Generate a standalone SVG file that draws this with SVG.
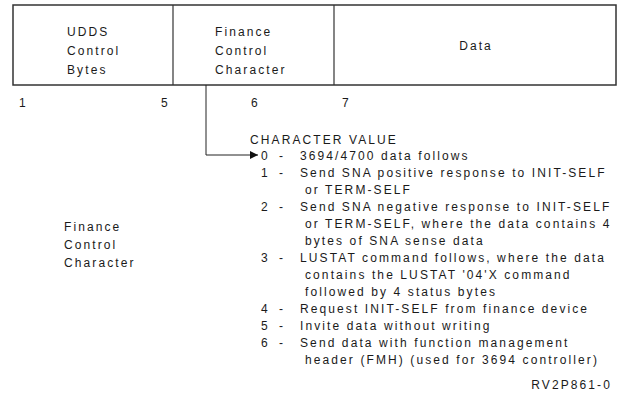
<svg xmlns="http://www.w3.org/2000/svg" width="623" height="394" viewBox="0 0 623 394">
  <style>
    text { font-family: "Liberation Sans", Arial, sans-serif; font-size: 12px; letter-spacing: 2.1px; fill: #1a1a1a; }
    .frame { fill: none; stroke: #333; stroke-width: 1.5; }
    .div { stroke: #333; stroke-width: 1.2; }
    .conn { fill: none; stroke: #222; stroke-width: 1; }
    .end { text-anchor: end; }
    .mid { text-anchor: middle; }
  </style>
  <defs>
    <marker id="arrow" viewBox="0 0 10 10" refX="10" refY="5" markerWidth="10" markerHeight="8" markerUnits="userSpaceOnUse" orient="auto">
      <path d="M0,0 L10,5 L0,10 z" fill="#111"/>
    </marker>
  </defs>

  <!-- record layout -->
  <g id="record">
    <rect class="frame" x="13" y="5" width="603" height="80"/>
    <line class="div" x1="173" y1="5" x2="173" y2="85"/>
    <line class="div" x1="334" y1="5" x2="334" y2="85"/>
  </g>
  <g id="udds">
    <text x="67" y="36">UDDS</text>
    <text x="67" y="55">Control</text>
    <text x="67" y="74">Bytes</text>
  </g>
  <g id="fcc">
    <text x="215" y="36">Finance</text>
    <text x="215" y="55">Control</text>
    <text x="215" y="74">Character</text>
  </g>
  <g id="data">
    <text class="mid" x="476" y="50">Data</text>
  </g>

  <!-- byte positions -->
  <g id="positions">
    <text x="19" y="107">1</text>
    <text x="161" y="107">5</text>
    <text x="251" y="107">6</text>
    <text x="342" y="107">7</text>
  </g>

  <g id="connectors">
    <path class="conn" d="M206,85 V155 H258" marker-end="url(#arrow)"/>
  </g>

  <!-- character value table -->
  <g id="values">
    <text x="250" y="144">CHARACTER VALUE</text>
    <text x="261" y="160">0</text><text x="279" y="160">-</text><text x="300" y="160">3694/4700 data follows</text>
    <text x="261" y="177">1</text><text x="279" y="177">-</text><text x="300" y="177">Send SNA positive response to INIT-SELF</text>
    <text x="305" y="194">or TERM-SELF</text>
    <text x="261" y="211">2</text><text x="279" y="211">-</text><text x="300" y="211">Send SNA negative response to INIT-SELF</text>
    <text x="305" y="228">or TERM-SELF, where the data contains 4</text>
    <text x="305" y="245">bytes of SNA sense data</text>
    <text x="261" y="262">3</text><text x="279" y="262">-</text><text x="300" y="262">LUSTAT command follows, where the data</text>
    <text x="305" y="279">contains the LUSTAT '04'X command</text>
    <text x="305" y="296">followed by 4 status bytes</text>
    <text x="261" y="313">4</text><text x="279" y="313">-</text><text x="300" y="313">Request INIT-SELF from finance device</text>
    <text x="261" y="330">5</text><text x="279" y="330">-</text><text x="300" y="330">Invite data without writing</text>
    <text x="261" y="347">6</text><text x="279" y="347">-</text><text x="300" y="347">Send data with function management</text>
    <text x="305" y="364">header (FMH) (used for 3694 controller)</text>
  </g>

  <g id="caption">
    <text x="64" y="231">Finance</text>
    <text x="64" y="249">Control</text>
    <text x="64" y="267">Character</text>
  </g>

  <text class="end" x="612" y="389">RV2P861-0</text>
</svg>
